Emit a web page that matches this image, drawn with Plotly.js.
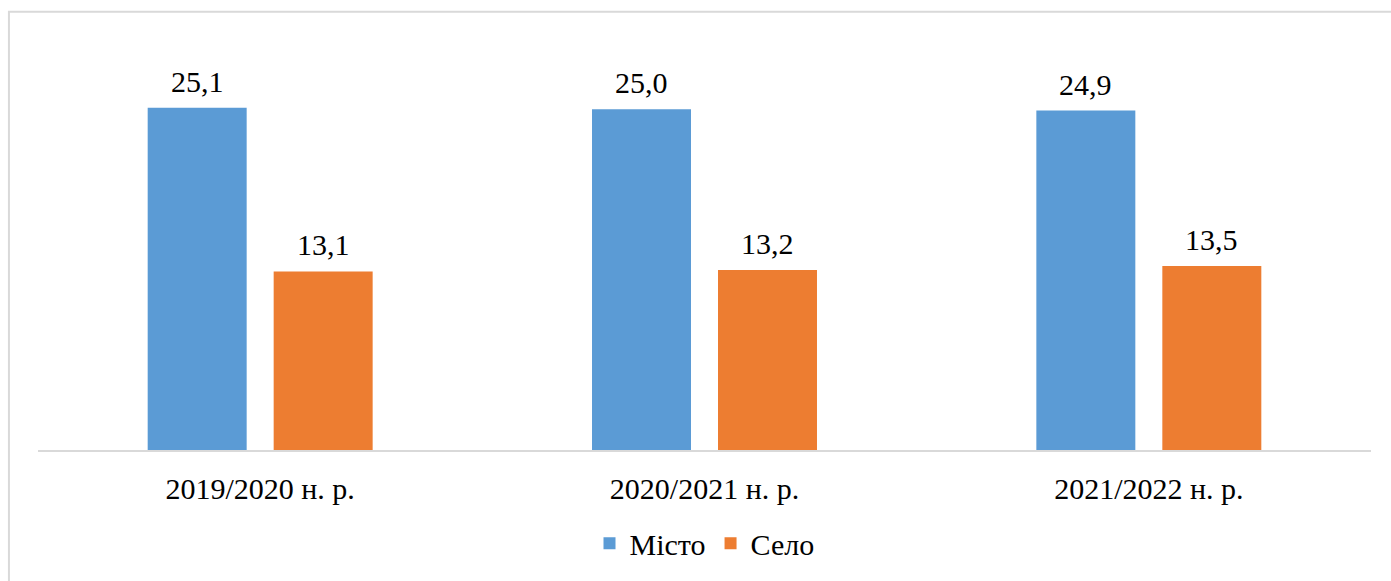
<!DOCTYPE html>
<html>
<head>
<meta charset="utf-8">
<script src="https://cdn.plot.ly/plotly-3.0.1.min.js"></script>
<style>html,body{margin:0;padding:0;background:#fff;}#chart{width:1391px;height:581px;}</style>
</head>
<body>
<div id="chart"></div>
<script>
const categories = ['2019/2020 н. р.', '2020/2021 н. р.', '2021/2022 н. р.'];
const seriesNames = ['Місто', 'Село'];
const misto = [25.1, 25.0, 24.9];
const selo = [13.1, 13.2, 13.5];

const colors = ['#5B9BD5', '#ED7D31'];
const FONT = 'Liberation Serif, Cambria, serif';
const FS = 30;
const fmt = v => v.toFixed(1).replace('.', ',');

const traces = [misto, selo].map((vals, i) => ({
  type: 'bar',
  name: seriesNames[i],
  x: categories,
  y: vals,
  marker: {color: colors[i]},
  hoverinfo: 'skip'
}));

const annotations = [];
[misto, selo].forEach((vals, i) => {
  vals.forEach((v, j) => {
    annotations.push({
      x: categories[j], y: v, xref: 'x', yref: 'y',
      text: fmt(v), showarrow: false,
      xanchor: 'center', yanchor: 'bottom',
      xshift: i === 0 ? -63 : 63, yshift: 8,
      font: {family: FONT, size: FS, color: '#000'}
    });
  });
});

const layout = {
  width: 1391, height: 581,
  margin: {l: 38, r: 20, t: 41, b: 126},
  paper_bgcolor: '#fff', plot_bgcolor: '#fff',
  barmode: 'group',
  bargap: 0.4329, bargroupgap: 0.2143,
  showlegend: true,
  legend: {
    orientation: 'h', x: 0.5, xanchor: 'center', y: -0.228, yanchor: 'middle',
    font: {family: FONT, size: FS, color: '#000'},
    itemwidth: 30,
    itemclick: false, itemdoubleclick: false
  },
  xaxis: {
    type: 'category',
    showline: true, linecolor: '#d9d9d9', linewidth: 2,
    showgrid: false, zeroline: false, ticks: '',
    ticklabelstandoff: 11,
    tickfont: {family: FONT, size: FS, color: '#000'},
    fixedrange: true
  },
  yaxis: {
    range: [0, 30], visible: false, showgrid: false, zeroline: false, fixedrange: true
  },
  annotations: annotations,
  shapes: [{
    type: 'rect', xref: 'paper', yref: 'paper', layer: 'below',
    x0: -0.0218, x1: 1.2, y0: -0.6, y1: 1.0713,
    line: {color: '#d9d9d9', width: 2}, fillcolor: 'rgba(0,0,0,0)'
  }]
};

Plotly.newPlot('chart', traces, layout, {displayModeBar: false, staticPlot: true});
</script>
</body>
</html>
